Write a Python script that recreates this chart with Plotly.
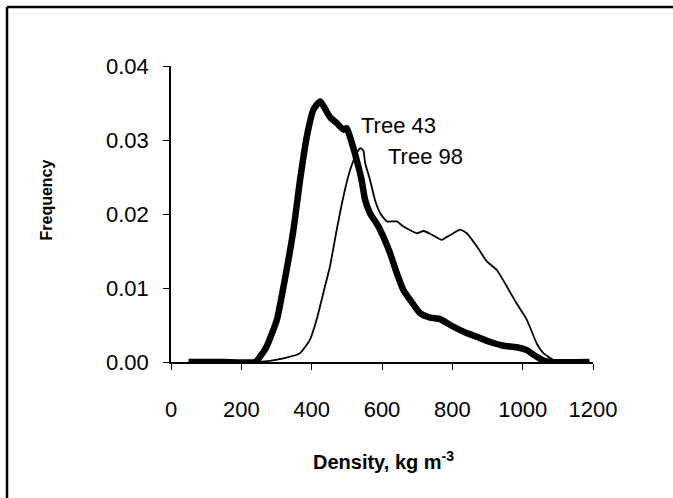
import plotly.graph_objects as go

# Tree 43 (thick curve)
tree43_x = [50, 150, 240, 253, 272, 301, 320, 348, 367, 386, 405, 424, 452, 471, 490, 500, 509,
            528, 542, 552, 566, 590, 604, 623, 642, 661, 680, 708, 737, 765, 794, 832, 870,
            908, 945, 983, 1012, 1040, 1059, 1080, 1190]
tree43_y = [0, 0, 0, 0.0007, 0.0021, 0.0057, 0.0102, 0.0178, 0.0246, 0.0304, 0.0341, 0.0352,
            0.0331, 0.0323, 0.0314, 0.0316, 0.0304, 0.0273, 0.0246, 0.0219, 0.0201, 0.0183,
            0.0169, 0.0147, 0.0120, 0.0097, 0.0084, 0.0066, 0.0060, 0.0058, 0.0050, 0.0041,
            0.0034, 0.0027, 0.0022, 0.0020, 0.0016, 0.0007, 0.0002, 0, 0]

# Tree 98 (thin curve)
tree98_x = [50, 250, 320, 367, 395, 414, 433, 452, 471, 490, 509, 528, 538, 547, 552, 566, 580,
            595, 614, 642, 661, 699, 718, 742, 770, 784, 803, 822, 841, 870, 898, 927, 955,
            983, 1012, 1040, 1059, 1090, 1120, 1190]
tree98_y = [0, 0, 0.0005, 0.0012, 0.0030, 0.0057, 0.0093, 0.0129, 0.0178, 0.0223, 0.0259,
            0.0282, 0.0289, 0.0286, 0.0269, 0.0246, 0.0219, 0.0201, 0.0190, 0.0190, 0.0183,
            0.0174, 0.0177, 0.0172, 0.0165, 0.0169, 0.0174, 0.0179, 0.0174, 0.0156, 0.0136,
            0.0124, 0.0102, 0.0079, 0.0057, 0.0025, 0.0012, 0.0002, 0, 0]

x_ticks = [0, 200, 400, 600, 800, 1000, 1200]
y_ticks = [0.00, 0.01, 0.02, 0.03, 0.04]
y_tick_labels = ["0.00", "0.01", "0.02", "0.03", "0.04"]

FONT = "Arial, Liberation Sans, sans-serif"

fig = go.Figure()
fig.add_trace(go.Scatter(x=tree98_x, y=tree98_y, mode="lines",
                         line=dict(color="black", width=1.8, shape="spline", smoothing=0.5),
                         showlegend=False))
fig.add_trace(go.Scatter(x=tree43_x, y=tree43_y, mode="lines",
                         line=dict(color="black", width=6.5, shape="spline", smoothing=0.5),
                         showlegend=False))

L, R, T, B = 171, 80, 66, 136
W, H = 673, 498
pw, ph = W - L - R, H - T - B

def px(x):
    return (x - L) / pw

def py(y):
    return (H - B - y) / ph

fig.add_annotation(x=535, y=0.032, xref="x", yref="y", text="Tree 43", showarrow=False,
                   xanchor="left", yanchor="middle", font=dict(size=22, color="black", family=FONT))
fig.add_annotation(x=612, y=0.0278, xref="x", yref="y", text="Tree 98", showarrow=False,
                   xanchor="left", yanchor="middle", font=dict(size=22, color="black", family=FONT))

fig.add_annotation(x=px(35), y=py(200), xref="paper", yref="paper", text="<b>Frequency</b>",
                   showarrow=False, textangle=-90, font=dict(size=16, color="black", family=FONT))
fig.add_annotation(x=px(383), y=py(475), xref="paper", yref="paper",
                   text="<b>Density, kg m<sup>-3</sup></b>", showarrow=False,
                   font=dict(size=20, color="black", family=FONT))

# scan frame (left and top edges)
fig.add_shape(type="line", xref="paper", yref="paper", x0=px(7), x1=px(7), y0=py(7), y1=py(498),
              line=dict(color="black", width=2.5))
fig.add_shape(type="line", xref="paper", yref="paper", x0=px(7), x1=px(673), y0=py(7), y1=py(7),
              line=dict(color="black", width=2.5))

fig.update_xaxes(range=[0, 1200], tickvals=x_ticks, ticks="outside", ticklen=6, tickwidth=1.3,
                 tickcolor="black", showline=True, linecolor="black", linewidth=1.5,
                 showgrid=False, zeroline=False, ticklabelstandoff=21,
                 tickfont=dict(size=22, color="black", family=FONT))
fig.update_yaxes(range=[0, 0.04], tickvals=y_ticks, ticktext=y_tick_labels, ticks="outside",
                 ticklen=6, tickwidth=1.3, tickcolor="black", showline=True, linecolor="black",
                 linewidth=1.5, showgrid=False, zeroline=False, ticklabelstandoff=10,
                 tickfont=dict(size=22, color="black", family=FONT))

fig.update_layout(width=W, height=H, margin=dict(l=L, r=R, t=T, b=B, autoexpand=False),
                  paper_bgcolor="white", plot_bgcolor="white")

fig.write_html("out.html")
